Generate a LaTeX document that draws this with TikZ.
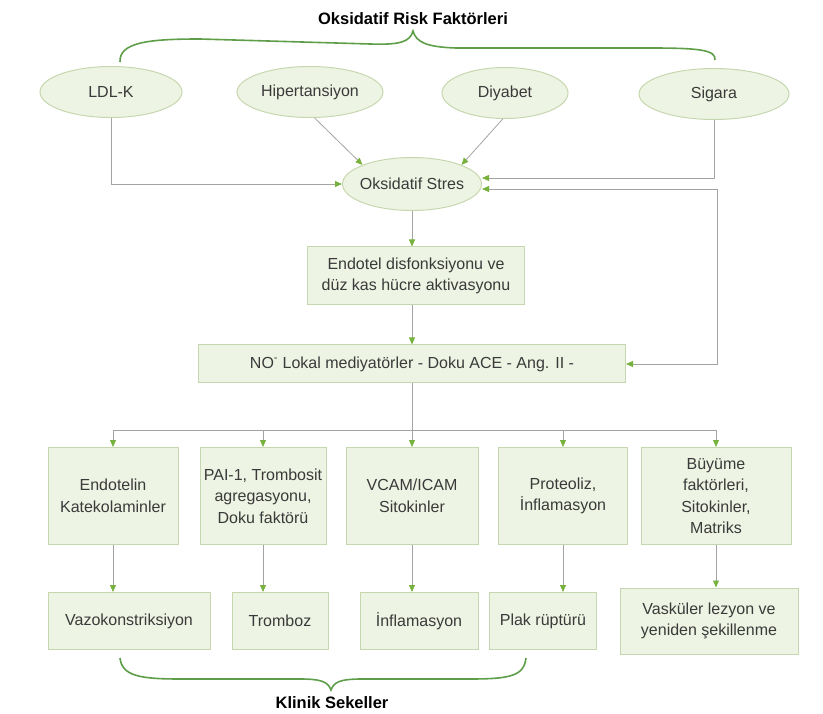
\documentclass[tikz,border=0pt]{standalone}
\usepackage{fontspec}
\setmainfont{Liberation Sans}
\usepackage{tikz}
\usetikzlibrary{positioning, arrows.meta, calc, shapes.geometric}
\definecolor{LeafFill}{HTML}{EEF4E3}
\definecolor{LeafEdge}{HTML}{C6D7AF}
\definecolor{TipGreen}{HTML}{78B23E}
\definecolor{BraceGreen}{HTML}{5E9E48}
\definecolor{WireGrey}{HTML}{A3A3A3}
\definecolor{InkGrey}{HTML}{3A3A3A}

\begin{document}
\begin{tikzpicture}[
      x=1pt, y=-1pt,
      >={Triangle[color=TipGreen, length=7pt, width=6pt]},
      every node/.style={text=InkGrey, font=\fontsize{16}{21.5}\selectfont},
      factor/.style={ellipse, draw=LeafEdge, fill=LeafFill, line width=1pt, inner xsep=-8pt, inner ysep=0pt, minimum height=51pt},
      box/.style={rectangle, draw=LeafEdge, fill=LeafFill, line width=1pt, align=center, inner sep=0pt},
      wire/.style={WireGrey, line width=0.8pt},
      link/.style={wire, ->},
      brace/.style={BraceGreen, line width=1.6pt},
      heading/.style={font=\bfseries\fontsize{16.5}{20}\selectfont, text=black}
  ]
    \useasboundingbox (0,0) rectangle (823,714);
    \node[heading](risk) at (413,19){Oksidatif Risk Faktörleri};
    \node[factor, minimum width=142pt](ldl) at (111,92){LDL-K};
    \node[factor, minimum width=146pt](hip) at (310,92){Hipertansiyon};
    \node[factor, minimum width=126pt](diy) at (505,93){Diyabet};
    \node[factor, minimum width=150pt](sig) at (714,94){Sigara};
    \node[factor, minimum width=139pt, minimum height=53pt](ox) at (412,184){Oksidatif Stres};
    \node[box, minimum width=217pt, minimum height=58pt](endo) at (416,276){Endotel disfonksiyonu ve\\düz kas hücre aktivasyonu};
    \node[box, minimum width=427pt, minimum height=38pt](no) at (412,364){NO\textsuperscript{-} Lokal mediyatörler - Doku ACE - Ang. II -};
    \node[box, minimum width=130pt, minimum height=97pt](endot) at (113,496){Endotelin\\Katekolaminler};
    \node[box, minimum width=126pt, minimum height=97pt](pai) at (263,496){PAI-1, Trombosit\\agregasyonu,\\Doku faktörü};
    \node[box, minimum width=132pt, minimum height=97pt](vcam) at (412,496){VCAM/ICAM\\Sitokinler};
    \node[box, minimum width=129pt, minimum height=97pt](prot) at (563,496){Proteoliz,\\İnflamasyon};
    \node[box, minimum width=150pt, minimum height=97pt](grow) at (716,496){Büyüme\\faktörleri,\\Sitokinler,\\Matriks};
    \node[box, minimum width=162pt, minimum height=57pt](vaso) at (129,621){Vazokonstriksiyon};
    \node[box, minimum width=96pt, minimum height=57pt](trom) at (280,621){Tromboz};
    \node[box, minimum width=118pt, minimum height=57pt](infl) at (419,621){İnflamasyon};
    \node[box, minimum width=107pt, minimum height=57pt](plak) at (543,621){Plak rüptürü};
    \node[box, minimum width=178pt, minimum height=66pt](vask) at (709,621){Vasküler lezyon ve\\yeniden şekillenme};
    \node[heading](sekel) at (332,703){Klinik Sekeller};
    \draw[brace] (120,62) .. controls (119,42) and (150,39) .. (200,39) -- (370,44) .. controls (400,45) and (410,42) .. (413,31) .. controls (416,42) and (426,47) .. (456,48) -- (650,48) .. controls (700,48) and (716,50) .. (715,60);
    \draw[brace] (120,658) .. controls (122,676) and (140,679) .. (180,679) -- (300,679) .. controls (322,679) and (328,682) .. (331,690) .. controls (334,682) and (340,679) .. (362,679) -- (470,679) .. controls (510,679) and (524,676) .. (526,658);
    \draw[link] (ldl.south) |- (ox.west);
    \draw[link] (hip.-80) -- (ox.north west);
    \draw[link] (diy.-95) -- (ox.north east);
    \draw[link] (sig.south) |- ($(ox.east)+(0,-6)$);
    \draw[wire, <->] ($(ox.east)+(0,5)$) -- ($(sig.south |- ox.east)+(3,5)$) |- (no.east);
    \draw[link] (ox.south) -- (ox.south |- endo.north);
    \draw[link] (ox.south |- endo.south) -- (ox.south |- no.north);
    \coordinate (bus) at (412,430);
    \draw[wire] (no) -- (bus);
    \draw[wire] (endot.north |- bus) -- (grow.north |- bus);
    \foreach \m in {endot, pai, vcam, prot, grow}
      \draw[link] (\m.north |- bus) -- (\m.north);
    \foreach \a/\b in {endot/vaso, pai/trom, vcam/infl, prot/plak, grow/vask}
      \draw[link] (\a) -- (\a |- \b.north);
  \end{tikzpicture}
\end{document}
